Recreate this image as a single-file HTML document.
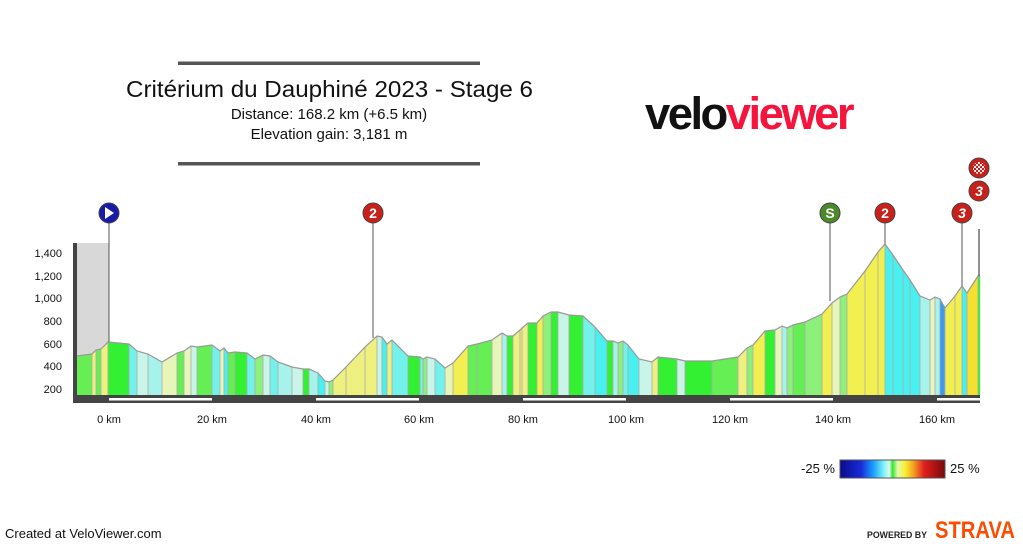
<!DOCTYPE html>
<html><head><meta charset="utf-8"><style>
html,body{margin:0;padding:0;background:#fff;}
body{width:1023px;height:544px;overflow:hidden;position:relative;font-family:"Liberation Sans",Arial,sans-serif;}
</style></head><body>
<svg id="s" width="1023" height="544" xmlns="http://www.w3.org/2000/svg" style="position:absolute;left:0;top:0">
<defs>
<linearGradient id="lg" x1="0" x2="1" y1="0" y2="0">
<stop offset="0" stop-color="#0a0a8a"/><stop offset="0.2" stop-color="#1a2ad8"/><stop offset="0.32" stop-color="#1aa0ff"/><stop offset="0.42" stop-color="#7ff5f5"/><stop offset="0.47" stop-color="#e0f8f0"/><stop offset="0.5" stop-color="#2ee82e"/><stop offset="0.55" stop-color="#e8f8b0"/><stop offset="0.62" stop-color="#f5f030"/><stop offset="0.7" stop-color="#f5a020"/><stop offset="0.8" stop-color="#e02020"/><stop offset="1" stop-color="#7a0808"/>
</linearGradient>
<pattern id="chk" width="4" height="4" patternUnits="userSpaceOnUse"><rect width="4" height="4" fill="#c8201a"/><rect width="2" height="2" fill="#eee"/><rect x="2" y="2" width="2" height="2" fill="#eee"/></pattern>
</defs>
<rect x="178" y="61.5" width="302" height="3.5" fill="#555"/>
<rect x="178" y="162" width="302" height="3.5" fill="#555"/>
<text x="126" y="97" font-size="23" fill="#111" textLength="407" lengthAdjust="spacingAndGlyphs">Critérium du Dauphiné 2023 - Stage 6</text>
<text x="329" y="119" font-size="15" text-anchor="middle" fill="#111">Distance: 168.2 km (+6.5 km)</text>
<text x="329" y="139" font-size="15" text-anchor="middle" fill="#111">Elevation gain: 3,181 m</text>
<text x="645" y="129" font-size="45" font-weight="bold" letter-spacing="-2.5" textLength="207" lengthAdjust="spacingAndGlyphs"><tspan fill="#111">velo</tspan><tspan fill="#f5143c">viewer</tspan></text>
<rect x="77" y="243" width="32" height="152" fill="#d8d8d8"/>
<g id="prof"></g>
<rect x="73" y="243" width="4" height="160" fill="#444"/>
<rect x="73" y="395" width="907" height="8" fill="#444"/>
<g fill="#fff">
<rect x="109" y="398" width="103" height="2.5"/><rect x="316" y="398" width="103" height="2.5"/>
<rect x="523" y="398" width="103" height="2.5"/><rect x="730" y="398" width="103" height="2.5"/>
<rect x="937" y="398" width="43" height="2.5"/>
</g>
<g font-size="11" fill="#111" text-anchor="end">
<text x="62" y="257">1,400</text><text x="62" y="280">1,200</text><text x="62" y="302">1,000</text>
<text x="62" y="325">800</text><text x="62" y="348">600</text><text x="62" y="370">400</text><text x="62" y="393">200</text>
</g>
<g font-size="11" fill="#111" text-anchor="middle">
<text x="109" y="423">0 km</text><text x="212" y="423">20 km</text><text x="316" y="423">40 km</text>
<text x="419" y="423">60 km</text><text x="523" y="423">80 km</text><text x="626" y="423">100 km</text>
<text x="730" y="423">120 km</text><text x="833" y="423">140 km</text><text x="937" y="423">160 km</text>
</g>
<g stroke="#555" stroke-width="1">
<line x1="109" y1="223" x2="109" y2="342"/><line x1="373" y1="223" x2="373" y2="338"/>
<line x1="830" y1="223" x2="830" y2="301"/><line x1="885" y1="223" x2="885" y2="244"/>
<line x1="962" y1="223" x2="962" y2="286"/><line x1="979" y1="229" x2="979" y2="276" stroke="#222"/>
</g>
<g font-size="14" font-weight="bold" fill="#fff" text-anchor="middle">
<circle cx="109" cy="213" r="10" fill="#1a1aa8" stroke="#444"/><polygon points="105,207 105,219 114,213" fill="#fff"/>
<circle cx="373" cy="213" r="10" fill="#c8201a" stroke="#444"/><text x="373" y="218">2</text>
<circle cx="830" cy="213" r="10" fill="#4a8a2a" stroke="#444"/><text x="830" y="218">S</text>
<circle cx="885" cy="213" r="10" fill="#c8201a" stroke="#444"/><text x="885" y="218">2</text>
<circle cx="962" cy="213" r="10" fill="#c8201a" stroke="#444"/><text x="962" y="218" font-style="italic">3</text>
<circle cx="979" cy="191" r="10" fill="#c8201a" stroke="#444"/><text x="979" y="196" font-style="italic">3</text>
<circle cx="979" cy="168" r="10" fill="#c8201a" stroke="#444"/>
<circle cx="979" cy="168" r="6" fill="url(#chk)"/>
</g>
<text x="835" y="473" font-size="13" text-anchor="end" fill="#111">-25 %</text>
<rect x="840" y="460" width="105" height="18" fill="url(#lg)" stroke="#555"/>
<text x="950" y="473" font-size="13" fill="#111">25 %</text>
<text x="5" y="538" font-size="13" fill="#111">Created at VeloViewer.com</text>
<text x="867" y="538" font-size="9" font-weight="bold" fill="#222" textLength="60" lengthAdjust="spacingAndGlyphs">POWERED BY</text>
<text x="935" y="538" font-size="24" font-weight="bold" fill="#fc4c02" textLength="80" lengthAdjust="spacingAndGlyphs">STRAVA</text>
</svg>
<script>
var P=[[77,356],[92,354],[96,350],[101,349],[108,342],[129,344],[137,351],[148,354],[162,362],[177,353],[184,351],[191,346],[197,347],[212,345],[220,351],[224,348],[228,353],[235,352],[247,353],[255,359],[263,355],[270,356],[278,362],[292,367],[303,369],[309,369],[318,373],[325,381],[329,382],[333,380],[346,367],[365,347],[377,336],[382,337],[387,344],[392,340],[408,356],[420,357],[423,359],[427,357],[435,359],[445,368],[453,363],[468,346],[477,344],[492,340],[502,333],[507,336],[513,336],[520,330],[522,328],[528,323],[537,323],[543,316],[551,312],[558,312],[569,315],[583,316],[595,327],[607,341],[613,341],[618,343],[623,341],[628,345],[639,359],[652,362],[658,357],[677,359],[685,361],[712,361],[738,357],[747,348],[753,345],[765,331],[775,330],[782,326],[787,328],[793,325],[805,322],[822,314],[832,303],[840,297],[847,294],[865,271],[878,252],[885,244],[893,255],[903,270],[910,280],[920,296],[930,300],[935,297],[940,299],[945,308],[955,296],[962,286],[967,293],[978,276],[980,276]];
function col(g){
 if(g<-8)return"#3a9af0";if(g<-5)return"#48f0f0";if(g<-3)return"#72f2ea";if(g<-1.5)return"#a8f2ec";if(g<-0.5)return"#c8f5e8";
 if(g<0.5)return"#33f033";if(g<1.5)return"#66ee55";if(g<2.5)return"#8cf07a";if(g<3.5)return"#e8f5b8";if(g<5)return"#eef080";if(g<7)return"#f2f050";if(g<9)return"#f5e030";return"#f5c820";}
var h="",line="";
for(var i=0;i<P.length-1;i++){var a=P[i],b=P[i+1];var dx=b[0]-a[0];var g=((a[1]-b[1])*8.83)/((dx/5.17)*1000)*100;
 h+='<polygon points="'+a[0]+','+a[1]+' '+b[0]+','+b[1]+' '+b[0]+',395 '+a[0]+',395" fill="'+col(g)+'" stroke="'+col(g)+'" stroke-width="0.3"/>';
 if(i>0)h+='<line x1="'+a[0]+'" y1="'+a[1]+'" x2="'+a[0]+'" y2="395" stroke="#aaa" stroke-width="0.8"/>';}
line=P.map(function(p){return p.join(",")}).join(" ");
h+='<polyline points="'+line+'" fill="none" stroke="#999" stroke-width="1.2"/>';
document.getElementById("prof").innerHTML=h;
</script>
</body></html>
